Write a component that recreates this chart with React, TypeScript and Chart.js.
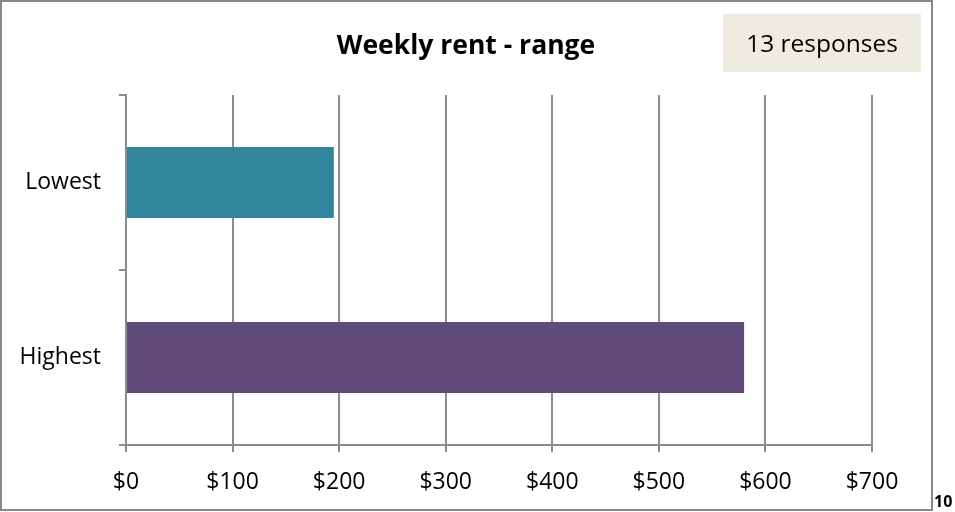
import React, { useEffect, useRef } from "react";
import { Chart, registerables } from "chart.js";

Chart.register(...registerables);

const categories = ["Lowest", "Highest"];
const rentValues = [195, 580];
const barColors = ["#31859C", "#604A7B"];
const xTickMax = 700;
const xTickStep = 100;
const chartTitle = "Weekly rent - range";
const responsesLabel = "13 responses";
const pageNumber = "10";

const FONT = "'Open Sans', 'Liberation Sans', sans-serif";
const GRID = "#8C8C8C";

const decorPlugin = {
  id: "decor",
  beforeDraw(chart: any) {
    const ctx = chart.ctx;
    ctx.save();
    ctx.fillStyle = "#ffffff";
    ctx.fillRect(0, 0, chart.width, chart.height);
    ctx.restore();
  },
  afterDraw(chart: any) {
    const ctx = chart.ctx;
    ctx.save();
    // outer border
    ctx.strokeStyle = "#888888";
    ctx.lineWidth = 2;
    ctx.strokeRect(1, 1, 931, 509);
    // title
    ctx.fillStyle = "#000000";
    ctx.font = `bold 26.5px ${FONT}`;
    ctx.textAlign = "center";
    ctx.textBaseline = "middle";
    ctx.fillText(chartTitle, 466, 46);
    // responses box
    ctx.fillStyle = "#EEECE1";
    ctx.fillRect(723, 14, 198, 58);
    ctx.fillStyle = "#000000";
    ctx.font = `24.5px ${FONT}`;
    ctx.fillText(responsesLabel, 822, 45);
    // page number
    ctx.font = `bold 16px ${FONT}`;
    ctx.textAlign = "left";
    ctx.textBaseline = "alphabetic";
    ctx.fillText(pageNumber, 934, 507);
    ctx.restore();
  },
};

export default function App() {
  const ref = useRef<HTMLCanvasElement | null>(null);
  useEffect(() => {
    document.body.style.margin = "0";
    const chart = new Chart(ref.current as HTMLCanvasElement, {
      type: "bar",
      data: {
        labels: categories,
        datasets: [
          {
            data: rentValues,
            backgroundColor: barColors,
            borderWidth: 0,
            barPercentage: 0.81,
            categoryPercentage: 0.5,
          },
        ],
      },
      options: {
        indexAxis: "y",
        responsive: false,
        animation: false,
        layout: { padding: { left: 0, top: 95, right: 83, bottom: 0 } },
        plugins: {
          legend: { display: false },
          title: { display: false },
          tooltip: { enabled: false },
        },
        scales: {
          x: {
            min: 0,
            max: xTickMax,
            ticks: {
              stepSize: xTickStep,
              color: "#000000",
              font: { family: FONT, size: 23 },
              padding: 17,
              callback: (v: any) => "$" + v,
            },
            grid: { color: GRID, lineWidth: 2, tickLength: 7 },
            border: { color: GRID, width: 2 },
            afterFit: (s: any) => {
              s.height = 67;
            },
          },
          y: {
            ticks: {
              color: "#000000",
              font: { family: FONT, size: 23 },
              padding: 18,
            },
            grid: { color: GRID, lineWidth: 2, tickLength: 7, drawOnChartArea: false, offset: true },
            border: { color: GRID, width: 2 },
            afterFit: (s: any) => {
              s.width = 126;
            },
          },
        },
      },
      plugins: [decorPlugin],
    });
    return () => chart.destroy();
  }, []);
  return (
    <div style={{ position: "absolute", left: 0, top: 0, width: 955, height: 512 }}>
      <canvas ref={ref} width={955} height={512} style={{ display: "block" }} />
    </div>
  );
}
